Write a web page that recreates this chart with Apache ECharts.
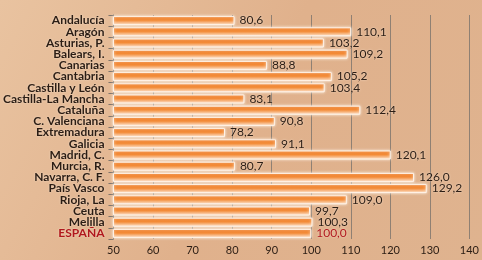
<!DOCTYPE html>
<html><head><meta charset="utf-8">
<script src="https://cdn.jsdelivr.net/npm/echarts@6/dist/echarts.min.js"></script>
<style>html,body{margin:0;padding:0;}#c{width:482px;height:260px;}</style>
</head><body><div id="c"></div>
<script>
const categories = ["Andalucía","Aragón","Asturias, P.","Balears, I.","Canarias","Cantabria","Castilla y León","Castilla-La Mancha","Cataluña","C. Valenciana","Extremadura","Galicia","Madrid, C.","Murcia, R.","Navarra, C. F.","País Vasco","Rioja, La","Ceuta","Melilla","ESPAÑA"];
const values = [80.6,110.1,103.2,109.2,88.8,105.2,103.4,83.1,112.4,90.8,78.2,91.1,120.1,80.7,126.0,129.2,109.0,99.7,100.3,100.0];
const xTicks = [50,60,70,80,90,100,110,120,130,140];
const highlight = "ESPAÑA";

const chart = echarts.init(document.getElementById('c'));
const barGrad = new echarts.graphic.LinearGradient(0,0,0,1,[
  {offset:0,color:'#ec6f14'},{offset:0.45,color:'#f38a35'},{offset:1,color:'#fcdcc2'}]);
chart.setOption({
  animation:false,
  backgroundColor: new echarts.graphic.LinearGradient(0,0,1,1,[
    {offset:0,color:'#e9c3a0'},{offset:0.5,color:'#e0b18c'},{offset:1,color:'#dfb38f'}]),
  grid:{left:112,right:5,top:15,bottom:21,containLabel:false},
  xAxis:{type:'value',min:xTicks[0],max:xTicks[xTicks.length-1],interval:10,position:'bottom',
    axisLine:{show:false},axisTick:{show:false},
    axisLabel:{color:'#2b1d14',fontFamily:'Lato',fontSize:11,margin:6},
    splitLine:{show:true,lineStyle:{color:'#8f8073',width:1}}},
  yAxis:{type:'category',data:categories,inverse:true,
    axisLine:{show:true,lineStyle:{color:'#7f746b',width:1}},
    axisTick:{show:true,length:5,interval:0,lineStyle:{color:'#7f746b'}},
    axisLabel:{interval:0,fontFamily:'Lato',fontSize:12,fontWeight:'bold',margin:9,
      color:function(v){return v===highlight?'#b0171c':'#2b1d14';},
      textShadowColor:'rgba(255,240,225,0.7)',textShadowBlur:2}},
  series:[{type:'bar',barWidth:9,
    data:values.map((v,i)=>({value:v,label:{color:categories[i]===highlight?'#b0171c':'#2b1d14'}})),
    itemStyle:{color:barGrad,borderColor:'#fff3e8',borderWidth:1,shadowColor:'rgba(255,250,240,0.9)',shadowBlur:3},
    label:{show:true,position:'right',distance:5,fontFamily:'Lato',fontSize:12,
      textShadowColor:'rgba(255,240,225,0.7)',textShadowBlur:2,
      formatter:p=>p.value.toFixed(1).replace('.',',')}
  }]
});
</script></body></html>
